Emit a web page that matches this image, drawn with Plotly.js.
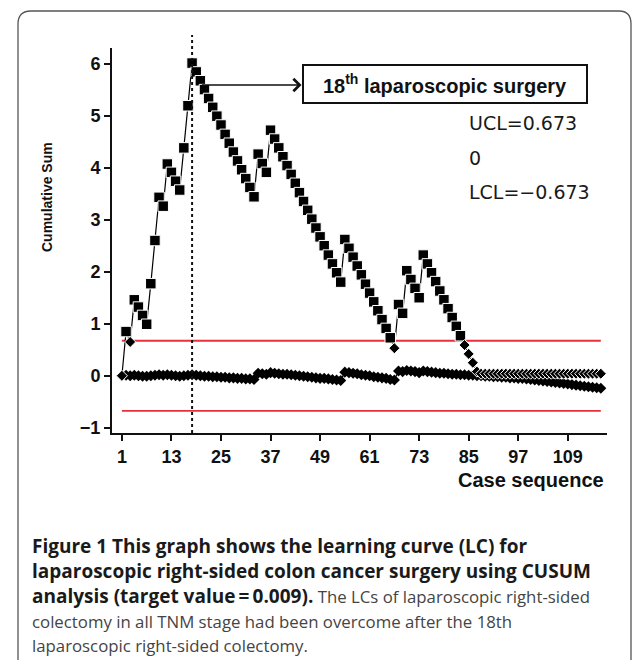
<!DOCTYPE html>
<html>
<head>
<meta charset="utf-8">
<script src="https://cdn.plot.ly/plotly-3.0.1.min.js"></script>
<style>
html,body{margin:0;padding:0;background:#fff;}
#chart{width:633px;height:660px;}
</style>
</head>
<body>
<div id="chart"></div>
<script>
// ---------------- data ----------------
const caseNumbers = [
  1,2,3,4,5,6,7,8,9,10,11,12,13,14,15,16,17,18,19,20,
  21,22,23,24,25,26,27,28,29,30,31,32,33,34,35,36,37,38,39,40,
  41,42,43,44,45,46,47,48,49,50,51,52,53,54,55,56,57,58,59,60,
  61,62,63,64,65,66,67,68,69,70,71,72,73,74,75,76,77,78,79,80,
  81,82,83,84,85,86,87,88,89,90,91,92,93,94,95,96,97,98,99,100,
  101,102,103,104,105,106,107,108,109,110,111,112,113,114,115,116,117
];
// upper CUSUM (squares above UCL, diamonds below)
const cusumUpper = [
  0.00,0.85,0.65,1.46,1.32,1.16,0.99,1.77,2.60,3.43,3.26,4.07,3.91,3.74,3.57,4.38,5.19,6.01,5.84,5.67,
  5.50,5.33,5.16,4.99,4.82,4.64,4.47,4.30,4.13,3.96,3.79,3.62,3.44,4.26,4.08,3.91,4.72,4.55,4.38,4.21,
  4.04,3.87,3.70,3.52,3.35,3.18,3.01,2.84,2.67,2.50,2.32,2.15,1.98,1.80,2.62,2.45,2.28,2.11,1.94,1.76,
  1.59,1.42,1.25,1.08,0.91,0.73,0.53,1.37,1.20,2.02,1.85,1.68,1.50,2.32,2.15,1.98,1.81,1.63,1.46,1.29,
  1.12,0.95,0.77,0.59,0.42,0.25,0.08,0.04,0.04,0.04,0.04,0.04,0.04,0.04,0.04,0.04,0.04,0.04,0.04,0.04,
  0.04,0.04,0.04,0.04,0.04,0.04,0.04,0.04,0.04,0.04,0.04,0.04,0.04,0.04,0.04,0.04,0.04
];
// lower series (diamonds hugging zero)
const cusumLower = [
  0.00,0.01,0.00,0.01,0.00,-0.01,-0.01,0.00,0.01,0.02,0.01,0.02,0.01,0.00,-0.01,0.00,0.01,0.02,0.01,0.00,
  -0.01,-0.01,-0.02,-0.02,-0.03,-0.03,-0.04,-0.04,-0.05,-0.05,-0.06,-0.06,-0.07,0.05,0.04,0.03,0.06,0.05,0.04,0.03,
  0.03,0.02,0.01,0.00,-0.01,-0.02,-0.03,-0.04,-0.05,-0.05,-0.06,-0.07,-0.08,-0.09,0.07,0.06,0.05,0.04,0.02,0.01,
  0.00,-0.02,-0.03,-0.04,-0.05,-0.07,-0.08,0.09,0.08,0.10,0.09,0.08,0.06,0.09,0.08,0.07,0.06,0.05,0.05,0.04,
  0.03,0.03,0.02,0.02,0.01,0.01,0.00,0.00,-0.01,-0.01,-0.02,-0.02,-0.03,-0.03,-0.04,-0.04,-0.05,-0.05,-0.06,-0.07,
  -0.08,-0.09,-0.10,-0.11,-0.12,-0.13,-0.14,-0.15,-0.16,-0.17,-0.18,-0.19,-0.20,-0.21,-0.22,-0.23,-0.24
];
const UCL = 0.673;
const LCL = -0.673;
const markedCase = 18;
const xTickVals = [1,13,25,37,49,61,73,85,97,109];
const yTickVals = [-1,0,1,2,3,4,5,6];
const controlLabels = ["UCL=0.673", "0", "LCL=\u22120.673"];
const boxLabel = "18<sup>th</sup> laparoscopic surgery";
const captionLines = [
  "<b>Figure 1 This graph shows the learning curve (LC) for</b>",
  "<b>laparoscopic right-sided colon cancer surgery using CUSUM</b>",
  "<b>analysis (target value\u2009=\u20090.009).</b> The LCs of laparoscopic right-sided",
  "colectomy in all TNM stage had been overcome after the 18th",
  "laparoscopic right-sided colectomy."
];

// ---------------- layout helpers ----------------
const W = 633, H = 660;
const M = {l:112, r:26, t:48, b:227};
const PW = W - M.l - M.r, PH = H - M.t - M.b;
const XR = [-1.4, 118.5], YR = [-1.10, 6.30];
const pxX = x => (x - M.l) / PW;          // page px -> paper
const pxY = y => (M.t + PH - y) / PH;
const dataXPaper = v => (v - XR[0]) / (XR[1] - XR[0]);

const symbols = cusumUpper.map(v => v > UCL ? 'square' : 'diamond');
const sizes = cusumUpper.map(v => v > UCL ? 10.5 : 8.5);

const traces = [
  {x:[caseNumbers[0], caseNumbers[caseNumbers.length-1]], y:[UCL,UCL], mode:'lines',
   line:{color:'#e8303a', width:1.8}, hoverinfo:'skip'},
  {x:[caseNumbers[0], caseNumbers[caseNumbers.length-1]], y:[LCL,LCL], mode:'lines',
   line:{color:'#e8303a', width:1.8}, hoverinfo:'skip'},
  {x:caseNumbers, y:cusumLower, mode:'lines+markers',
   line:{color:'#000', width:1.2}, marker:{symbol:'diamond', size:8.5, color:'#000', opacity:1}},
  {x:caseNumbers, y:cusumUpper, mode:'lines+markers',
   line:{color:'#000', width:1.2}, marker:{symbol:symbols, size:sizes, color:'#000', opacity:1}}
];

const tickFont = {family:'Liberation Sans, Arial, sans-serif', size:18, weight:'bold', color:'#111'};
const capFont = {family:'Open Sans, sans-serif', size:16.8, color:'#444'};

const annotations = [
  {xref:'paper', yref:'paper', x:pxX(47), y:pxY(197), text:'Cumulative Sum', textangle:-90,
   showarrow:false, xanchor:'center', yanchor:'middle',
   font:{family:'Liberation Sans, Arial, sans-serif', size:14, weight:'bold', color:'#111'}},
  {xref:'paper', yref:'paper', x:pxX(606), y:pxY(480), text:'Case sequence',
   showarrow:false, xanchor:'right', yanchor:'middle',
   font:{family:'Liberation Sans, Arial, sans-serif', size:20, weight:'bold', color:'#111'}},
  // arrow from peak to box
  {xref:'x', yref:'y', axref:'x', ayref:'y', x:44.5, y:5.59, ax:20, ay:5.59, text:'',
   showarrow:true, arrowhead:4, arrowsize:1.5, arrowwidth:1.6, arrowcolor:'#111', standoff:0, startstandoff:0},
  {xref:'paper', yref:'paper', x:pxX(445), y:pxY(84), text:boxLabel, showarrow:false,
   xanchor:'center', yanchor:'middle', width:280, height:34, borderpad:1, borderwidth:2,
   bordercolor:'#111', bgcolor:'#fff',
   font:{family:'Liberation Sans, Arial, sans-serif', size:20, weight:'bold', color:'#111'}}
];
const ctrlY = [123, 158, 192];
controlLabels.forEach((t,i) => annotations.push({
  xref:'paper', yref:'paper', x:pxX(467), y:pxY(ctrlY[i]), text:t, showarrow:false,
  xanchor:'left', yanchor:'middle',
  font:{family:'DejaVu Sans, sans-serif', size:19, color:'#1a1a1a'}
}));
const capY = [546, 571, 596, 621, 645];
captionLines.forEach((t,i) => annotations.push({
  xref:'paper', yref:'paper', x:pxX(30), y:pxY(capY[i]),
  text:t.replace(/<b>(.*?)<\/b>/g, '<b><span style="font-size:19px;fill:#1a1a1a">$1</span></b>'),
  showarrow:false, xanchor:'left', yanchor:'middle', align:'left', font:capFont
}));

const shapes = [
  {type:'line', xref:'paper', yref:'paper', x0:dataXPaper(markedCase), x1:dataXPaper(markedCase),
   y0:0, y1:pxY(35), line:{color:'#111', width:2, dash:'dot'}},
  {type:'path', xref:'paper', yref:'paper',
   path:`M ${pxX(18)},${pxY(662)} L ${pxX(18)},${pxY(24)} Q ${pxX(18)},${pxY(11)} ${pxX(31)},${pxY(11)} L ${pxX(619)},${pxY(11)} Q ${pxX(631)},${pxY(11)} ${pxX(631)},${pxY(24)} L ${pxX(631)},${pxY(662)}`,
   line:{color:'#555', width:1.3}}
];

const layout = {
  width:W, height:H, margin:M, showlegend:false,
  paper_bgcolor:'#fff', plot_bgcolor:'#fff',
  xaxis:{range:XR, tickvals:xTickVals, ticktext:xTickVals.map(String), ticks:'outside', ticklen:6, tickwidth:2,
         tickcolor:'#111', showline:true, linewidth:2, linecolor:'#111', showgrid:false, zeroline:false,
         tickfont:tickFont},
  yaxis:{range:YR, tickvals:yTickVals, ticks:'outside', ticklen:6, tickwidth:2, tickcolor:'#111',
         showline:true, linewidth:2, linecolor:'#111', showgrid:false, zeroline:false, tickfont:tickFont},
  annotations:annotations, shapes:shapes
};

Plotly.newPlot('chart', traces, layout, {displayModeBar:false, staticPlot:true});
</script>
</body>
</html>
